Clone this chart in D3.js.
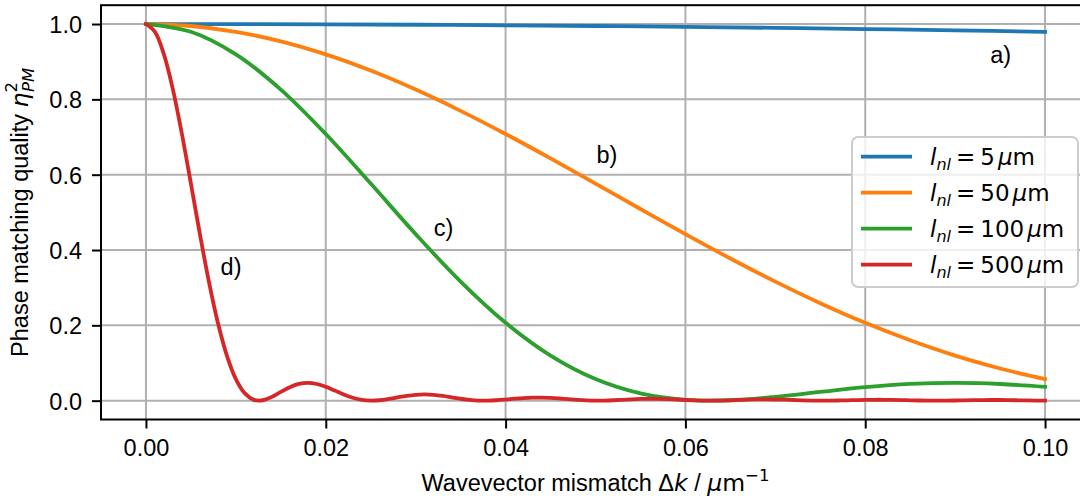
<!DOCTYPE html>
<html>
<head>
<meta charset="utf-8">
<script src="https://cdn.jsdelivr.net/npm/d3@7"></script>
<style>
  html, body { margin: 0; padding: 0; background: #fff; }
  svg { display: block; }
  text { font-family: "Liberation Sans", Arial, sans-serif; fill: #000; }
  .math { font-family: "DejaVu Sans", sans-serif; }
</style>
</head>
<body>
<svg id="chart" width="1080" height="499"></svg>
<script>
// ---------- data ----------
const xTicks = [0.00, 0.02, 0.04, 0.06, 0.08, 0.10];
const yTicks = [0.0, 0.2, 0.4, 0.6, 0.8, 1.0];

const kBlue = [0, 0.01, 0.02, 0.03, 0.04, 0.05, 0.06, 0.07, 0.08, 0.09, 0.10];
const etaL5 = [1, 0.99979, 0.99917, 0.99813, 0.99667, 0.99480, 0.99252, 0.98983, 0.98674, 0.98324, 0.97934];

const kCoarse = [0, 0.005, 0.01, 0.015, 0.02, 0.025, 0.03, 0.035, 0.04, 0.045, 0.05,
                 0.055, 0.06, 0.065, 0.07, 0.075, 0.08, 0.085, 0.09, 0.095, 0.10];
const etaL50 = [1, 0.99480, 0.97934, 0.95400, 0.91939, 0.87639, 0.82601, 0.76947, 0.70807, 0.64323, 0.57637,
                0.50891, 0.44222, 0.37759, 0.31616, 0.25892, 0.20671, 0.16034, 0.11958, 0.08533, 0.05731];
const etaL100 = [1, 0.97934, 0.91939, 0.82601, 0.70807, 0.57637, 0.44222, 0.31616, 0.20671, 0.11958, 0.05731,
                 0.01926, 0.00221, 0.00111, 0.01005, 0.02323, 0.03580, 0.04435, 0.04719, 0.04426, 0.03678];

const kFine = d3.range(0, 101).map(i => i / 1000);
const etaL500 = [1, 0.97934, 0.91939, 0.82601, 0.70807, 0.57637, 0.44222, 0.31616, 0.20671, 0.11958, 0.05731,
  0.01926, 0.00221, 0.00111, 0.01005, 0.02323, 0.03580, 0.04435, 0.04719, 0.04426, 0.03678,
  0.02677, 0.01646, 0.00781, 0.00217, 0.00003, 0.00110, 0.00445, 0.00881, 0.01289, 0.01564,
  0.01647, 0.01529, 0.01251, 0.00883, 0.00510, 0.00210, 0.00035, 0.00006, 0.00107, 0.00296,
  0.00514, 0.00702, 0.00814, 0.00826, 0.00740, 0.00580, 0.00385, 0.00200, 0.00064, 0.00003,
  0.00021, 0.00105, 0.00227, 0.00354, 0.00454, 0.00501, 0.00486, 0.00416, 0.00308, 0.00188,
  0.00084, 0.00018, 0.00001, 0.00032, 0.00101, 0.00186, 0.00266, 0.00320, 0.00336, 0.00311,
  0.00252, 0.00174, 0.00095, 0.00034, 0.00003, 0.00006, 0.00041, 0.00096, 0.00157, 0.00208,
  0.00237, 0.00237, 0.00208, 0.00159, 0.00101, 0.00048, 0.00012, 0.00000, 0.00013, 0.00047,
  0.00092, 0.00135, 0.00168, 0.00180, 0.00171, 0.00142, 0.00102, 0.00058, 0.00023, 0.00003];

const seriesNames = ["5", "50", "100", "500"];
const seriesColors = ["#1f77b4", "#ff7f0e", "#2ca02c", "#d62728"];

const annLabels = ["a)", "b)", "c)", "d)"];
const annX = [0.0939, 0.0501, 0.0320, 0.0083];
const annY = [0.896, 0.632, 0.437, 0.334];

// ---------- build ----------
const FS = "23.5px";
const series = [
  { k: kBlue, v: etaL5 },
  { k: kCoarse, v: etaL50 },
  { k: kCoarse, v: etaL100 },
  { k: kFine, v: etaL500 }
];

const svg = d3.select("#chart");
const x = d3.scaleLinear().domain([-0.005, 0.105]).range([101, 1090]);
const y = d3.scaleLinear().domain([-0.05, 1.05]).range([419.5, 5.2]);

// grid
const grid = svg.append("g");
grid.selectAll("line.gx").data(xTicks).join("line")
  .attr("x1", d => x(d)).attr("x2", d => x(d))
  .attr("y1", y(-0.05)).attr("y2", y(1.05))
  .attr("stroke", "#b0b0b0").attr("stroke-width", 2);
grid.selectAll("line.gy").data(yTicks).join("line")
  .attr("x1", x(-0.005)).attr("x2", x(0.105))
  .attr("y1", d => y(d)).attr("y2", d => y(d))
  .attr("stroke", "#b0b0b0").attr("stroke-width", 2);

// lines
const lineGen = d3.line().curve(d3.curveCatmullRom.alpha(0.5));
series.forEach((s, i) => {
  const pts = s.k.map((k, j) => [x(k), y(s.v[j])]);
  svg.append("path")
    .attr("d", lineGen(pts))
    .attr("fill", "none")
    .attr("stroke", seriesColors[i])
    .attr("stroke-width", 3.8)
    .attr("stroke-linecap", "square")
    .attr("stroke-linejoin", "round");
});

// spines
svg.append("rect")
  .attr("x", x(-0.005)).attr("y", y(1.05))
  .attr("width", x(0.105) - x(-0.005)).attr("height", y(-0.05) - y(1.05))
  .attr("fill", "none").attr("stroke", "#000").attr("stroke-width", 2);

// axes
const xAxis = d3.axisBottom(x).tickValues(xTicks).tickFormat(d3.format(".2f")).tickSize(9).tickSizeOuter(0);
const gx = svg.append("g").attr("transform", `translate(0,${y(-0.05)})`).call(xAxis);
gx.select(".domain").remove();
gx.selectAll(".tick line").attr("stroke", "#000").attr("stroke-width", 2);
gx.selectAll(".tick text").attr("y", 36.5).attr("dy", 0)
  .style("font-family", "Liberation Sans, Arial, sans-serif").style("font-size", FS).attr("fill", "#000");

const yAxis = d3.axisLeft(y).tickValues(yTicks).tickFormat(d3.format(".1f")).tickSize(9).tickSizeOuter(0);
const gy = svg.append("g").attr("transform", `translate(${x(-0.005)},0)`).call(yAxis);
gy.select(".domain").remove();
gy.selectAll(".tick line").attr("stroke", "#000").attr("stroke-width", 2);
gy.selectAll(".tick text").attr("x", -19).attr("dy", "0.36em")
  .style("font-family", "Liberation Sans, Arial, sans-serif").style("font-size", FS).attr("fill", "#000");

// x label
const xl = svg.append("text").attr("x", (x(-0.005) + x(0.105)) / 2).attr("y", 490.5)
  .attr("text-anchor", "middle").style("font-size", FS);
xl.append("tspan").text("Wavevector mismatch Δ");
xl.append("tspan").attr("class", "math").style("font-style", "italic").text("k");
xl.append("tspan").text(" / ");
xl.append("tspan").attr("class", "math").style("font-style", "italic").text("μ");
xl.append("tspan").attr("class", "math").text("m");
xl.append("tspan").attr("class", "math").attr("dy", -9.5).style("font-size", "16.5px").text("−1");

// y label
const yl = svg.append("text")
  .attr("transform", `translate(27.5,${(y(-0.05) + y(1.05)) / 2}) rotate(-90)`)
  .attr("text-anchor", "middle").style("font-size", FS);
yl.append("tspan").text("Phase matching quality ");
yl.append("tspan").attr("class", "math").style("font-style", "italic").text("η");
yl.append("tspan").attr("class", "math").attr("dy", -10.5).style("font-size", "16.5px").text("2");
yl.append("tspan").attr("class", "math").attr("dx", -10).attr("dy", 17).style("font-size", "16.5px").style("font-style", "italic").text("PM");

// annotations
svg.selectAll("text.ann").data(annLabels).join("text")
  .attr("class", "ann")
  .attr("x", (d, i) => x(annX[i])).attr("y", (d, i) => y(annY[i]))
  .style("font-size", FS).text(d => d);

// legend
const lg = svg.append("g");
lg.append("rect").attr("x", 852).attr("y", 137).attr("width", 226).attr("height", 150)
  .attr("rx", 6).attr("fill", "#fff").attr("fill-opacity", 0.8)
  .attr("stroke", "#cccccc").attr("stroke-width", 2);
seriesNames.forEach((n, i) => {
  const yy = 156.7 + i * 36;
  lg.append("line").attr("x1", 861).attr("x2", 912).attr("y1", yy).attr("y2", yy)
    .attr("stroke", seriesColors[i]).attr("stroke-width", 3.8);
  const t = lg.append("text").attr("class", "math").attr("x", 930).attr("y", yy + 8.5)
    .style("font-size", "23px");
  t.append("tspan").style("font-style", "italic").text("l");
  t.append("tspan").attr("dy", 5).style("font-size", "16px").style("font-style", "italic").text("nl");
  t.append("tspan").attr("dy", -5).attr("dx", 5).text("=");
  t.append("tspan").attr("dx", 5).text(n);
  t.append("tspan").attr("dx", 3).style("font-style", "italic").text("μ");
  t.append("tspan").text("m");
});
</script>
</body>
</html>
